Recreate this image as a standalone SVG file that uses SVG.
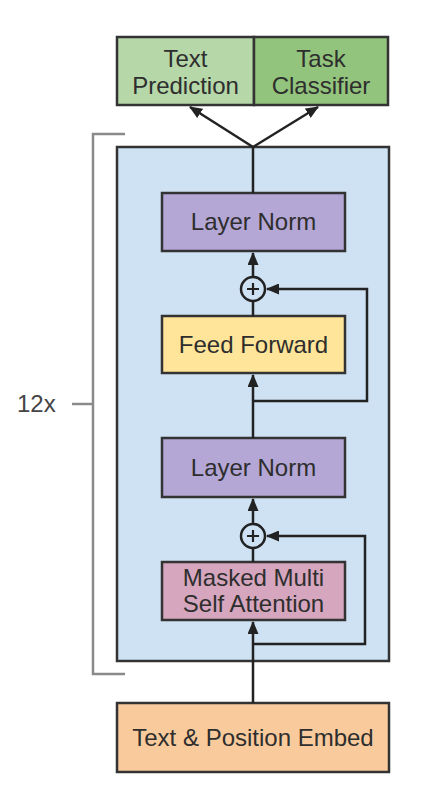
<svg xmlns="http://www.w3.org/2000/svg" width="422" height="789" viewBox="0 0 422 789">
<style>
.box{stroke:#333;stroke-width:2.5}
.t{font-family:"Liberation Sans",Arial,sans-serif;font-size:24px;fill:#2e2e2e;text-anchor:middle}
.c{fill:none;stroke:#222;stroke-width:2.5}
.br{fill:none;stroke:#8a8a8a;stroke-width:2.5}
</style>
<defs>
<marker id="ah" markerUnits="userSpaceOnUse" markerWidth="13" markerHeight="11" refX="12" refY="5.5" orient="auto">
<path d="M0,0 L13,5.5 L0,11 z" fill="#222"/>
</marker>
</defs>
<rect width="422" height="789" fill="#fff"/>
<g id="bracket">
<path class="br" d="M125,134 H93 V674 H125"/>
<path class="br" d="M72,404 H93"/>
<text x="17" y="412" style="font-family:'Liberation Sans',Arial,sans-serif;font-size:24px;fill:#444">12x</text>
</g>
<g id="container">
<rect class="box" x="117" y="147" width="272" height="514" fill="#cfe2f3"/>
</g>
<g id="text-prediction">
<rect class="box" x="117" y="37" width="137" height="68" fill="#b6d7a8"/>
<text class="t" x="185.5" y="67">Text</text>
<text class="t" x="185.5" y="94">Prediction</text>
</g>
<g id="task-classifier">
<rect class="box" x="254" y="37" width="134" height="68" fill="#93c47d"/>
<text class="t" x="321" y="67">Task</text>
<text class="t" x="321" y="94">Classifier</text>
</g>
<g id="layer-norm-1">
<rect class="box" x="162" y="193" width="183" height="58" fill="#b4a7d6"/>
<text class="t" x="253.5" y="230">Layer Norm</text>
</g>
<g id="add-1">
<circle cx="253" cy="289" r="12" fill="none" stroke="#222" stroke-width="2.5"/>
<path d="M247,289 H259 M253,283 V295" stroke="#222" stroke-width="2.2"/>
</g>
<g id="feed-forward">
<rect class="box" x="162" y="316" width="183" height="57" fill="#ffe599"/>
<text class="t" x="253.5" y="353">Feed Forward</text>
</g>
<g id="layer-norm-2">
<rect class="box" x="162" y="438" width="183" height="59" fill="#b4a7d6"/>
<text class="t" x="253.5" y="476">Layer Norm</text>
</g>
<g id="add-2">
<circle cx="253" cy="536" r="12" fill="none" stroke="#222" stroke-width="2.5"/>
<path d="M247,536 H259 M253,530 V542" stroke="#222" stroke-width="2.2"/>
</g>
<g id="masked-attention">
<rect class="box" x="162" y="562" width="183" height="58" fill="#d5a6bd"/>
<text class="t" x="253.5" y="586">Masked Multi</text>
<text class="t" x="253.5" y="612">Self Attention</text>
</g>
<g id="embed">
<rect class="box" x="117" y="703" width="272" height="69" fill="#f9cb9c"/>
<text class="t" x="253" y="746">Text &amp; Position Embed</text>
</g>
<g id="connectors">
<path class="c" d="M253,193 V147"/>
<path class="c" d="M253,147 L190,107" marker-end="url(#ah)"/>
<path class="c" d="M253,147 L318,107" marker-end="url(#ah)"/>
<path class="c" d="M253,277 V253" marker-end="url(#ah)"/>
<path class="c" d="M253,316 V301"/>
<path class="c" d="M253,438 V375" marker-end="url(#ah)"/>
<path class="c" d="M253,401 H367 V289 H267" marker-end="url(#ah)"/>
<path class="c" d="M253,524 V499" marker-end="url(#ah)"/>
<path class="c" d="M253,562 V548"/>
<path class="c" d="M253,703 V622" marker-end="url(#ah)"/>
<path class="c" d="M253,644 H365 V536 H267" marker-end="url(#ah)"/>
</g>
</svg>
